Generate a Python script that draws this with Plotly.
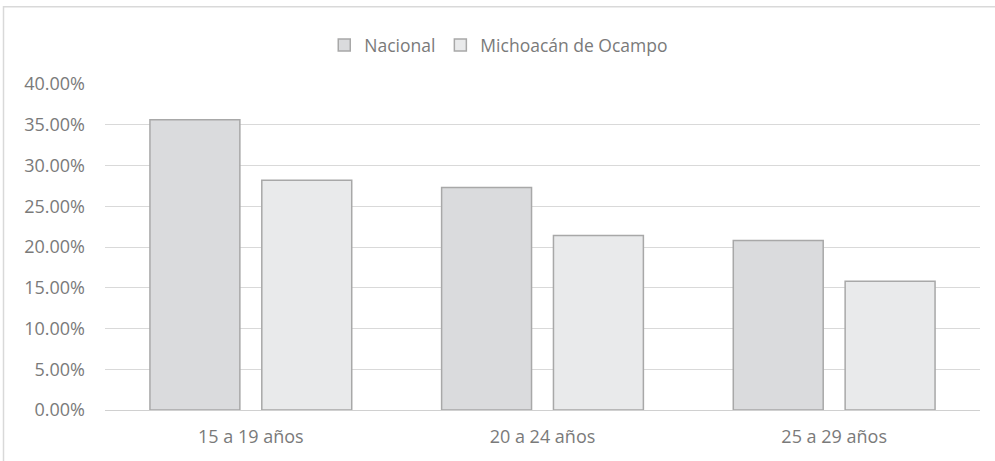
import plotly.graph_objects as go

# Datos
grupos_edad = ["15 a 19 años", "20 a 24 años", "25 a 29 años"]
nacional = [0.356, 0.273, 0.208]
michoacan = [0.282, 0.214, 0.158]
series = ["Nacional", "Michoacán de Ocampo"]

fig = go.Figure()
fig.add_trace(go.Bar(
    x=grupos_edad, y=nacional, name=series[0],
    marker=dict(color="#dadbdd", line=dict(color="#a8a8a8", width=1.5)),
))
fig.add_trace(go.Bar(
    x=grupos_edad, y=michoacan, name=series[1],
    marker=dict(color="#e9eaeb", line=dict(color="#a8a8a8", width=1.5)),
))

# marco exterior del gráfico
fig.add_shape(type="rect", xref="paper", yref="paper",
              x0=-0.116, x1=1.2, y0=-0.5, y1=1.237,
              line=dict(color="#d9d9d9", width=1.5), layer="below")

fig.update_layout(
    width=995, height=461,
    margin=dict(l=105, r=15, t=84, b=51, autoexpand=False),
    paper_bgcolor="white", plot_bgcolor="white",
    barmode="group", bargap=0.233, bargroupgap=0.196,
    font=dict(family="Open Sans", size=18, color="#7a7a7a"),
    legend=dict(orientation="h", x=0.45, xanchor="center",
                y=1.119, yanchor="middle",
                font=dict(size=17.5, color="#7a7a7a"), itemwidth=30),
    showlegend=True,
)
fig.update_yaxes(range=[0, 0.40], dtick=0.05, tickformat=".2%",
                 showgrid=True, gridcolor="#d9d9d9", gridwidth=1,
                 zeroline=True, zerolinecolor="#d0d0d0", zerolinewidth=1,
                 ticks="", ticklabelstandoff=19, automargin=False)
fig.update_xaxes(showgrid=False, ticks="", ticklabelstandoff=14,
                 showline=False, automargin=False)

# sin margen del body para que el marco quede en su sitio
fig.write_html("out.html", config={"displayModeBar": False},
               post_script="document.body.style.margin='0px';")
